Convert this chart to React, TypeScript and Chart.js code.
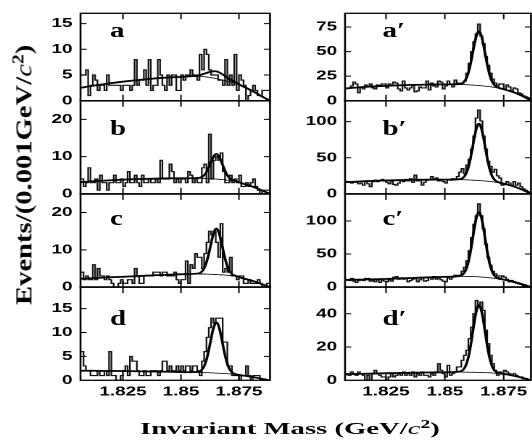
import React, { useEffect, useLayoutEffect, useRef } from 'react';
import { Chart, registerables } from 'chart.js';

Chart.register(...registerables);

// ---------------- data ----------------
const BIN_START = 1.807;
const BIN_WIDTH = 0.001;
const X_TICKS = [1.825, 1.85, 1.875];
const X_TICK_LABELS = ['1.825', '1.85', '1.875'];
const X_RANGE_LEFT = [1.8067, 1.8884];
const X_RANGE_RIGHT = [1.8076, 1.8866];

const COUNTS_A = [5,5,6,1,3,5,4,2,3,3, 2,5,3,3,3,3,3,2,3,3, 3,2,3,8,3,4,4,6,3,8, 2,3,3,8,5,3,2,5,3,5, 5,2,2,5,4,5,5,6,5,5, 4,9,6,10,9,6,5,5,5,4, 4,3,8,3,5,3,9,2,5,4, 3,0,1,2,3,2,1,1,2,2, 2];
const COUNTS_B = [4,2,3,7,3,3,4,1,5,3, 3,1,3,3,5,3,3,4,2,3, 6,3,3,5,3,2,5,3,3,4, 3,3,4,3,9,4,4,4,8,6, 3,4,3,4,4,3,6,5,3,4, 3,3,7,8,3,16,4,9,10,9, 11,6,3,3,5,3,4,3,5,2, 2,3,2,3,4,2,1,0,1,1, 1];
const COUNTS_C = [4,2,3,2,2,6,2,5,3,3, 2,3,2,1,0,0,1,2,1,1, 2,2,1,5,3,1,1,3,3,3, 3,4,4,4,3,4,4,3,3,3, 4,2,1,2,2,7,1,6,5,9, 8,8,5,9,12,15,14,15,12,8, 17,4,5,4,8,3,3,2,3,3, 1,1,2,1,1,1,2,1,0,0, 1];
const COUNTS_D = [6,3,2,2,1,1,1,2,1,1, 2,1,6,1,1,0,0,1,2,3, 1,5,4,4,2,1,1,2,1,1, 2,2,2,1,2,4,4,2,3,2, 2,3,2,3,2,3,3,2,3,3, 2,1,4,6,9,11,13,12,13,13, 13,8,8,3,3,1,1,1,0,1, 1,3,1,0,1,1,1,0,0,0, 0];

const COUNTS_A2 = [13,13,13,15,19,17,8,14,12,16, 14,17,13,12,16,15,17,17,13,17, 15,19,18,12,10,20,13,11,13,16, 9,10,14,13,13,20,11,18,15,14, 20,19,12,15,20,17,14,21,18,17, 18,20,28,38,50,60,68,78,66,58, 45,36,28,22,18,15,17,17,12,16, 14,10,13,12,8,7,5,4,3,2];
const COUNTS_B2 = [18,17,17,15,17,16,14,15,12,18, 14,10,17,19,17,18,20,18,16,14, 18,13,12,15,19,17,20,18,21,16, 26,18,20,12,16,19,20,24,20,22, 18,20,17,15,20,19,21,20,24,30, 35,28,40,48,62,80,105,116,101,80, 62,45,38,30,34,25,22,12,13,17, 15,12,17,12,15,10,7,5,3,2];
const COUNTS_C2 = [12,11,10,13,9,7,10,11,10,13, 13,9,10,8,11,7,10,9,8,11, 9,15,16,12,14,12,13,8,10,12, 14,8,11,14,9,10,15,12,16,12, 14,11,9,8,14,12,15,18,16,18, 24,30,40,55,75,95,108,126,108,88, 65,45,33,24,20,17,12,17,15,12, 8,10,7,6,5,4,2,1,1,1];
const COUNTS_D2 = [4,4,3,5,4,3,5,4,3,0, 3,0,4,6,4,3,2,2,0,2, 4,2,3,4,3,5,3,4,3,5, 2,4,3,5,3,3,2,4,3,5, 10,6,4,2,9,3,4,5,8,8, 12,15,18,25,32,40,48,45,47,42, 30,22,15,10,6,3,5,4,6,5, 4,3,4,3,2,2,1,1,0,0];

// fit curves (background = thin, total = thick), sampled along x
const FIT_X_LEFT = [1.806, 1.812, 1.818, 1.824, 1.830, 1.836, 1.842, 1.848, 1.853, 1.8578, 1.8588, 1.8598, 1.8608, 1.8618, 1.8628, 1.8638, 1.8648, 1.8653, 1.8658, 1.8668, 1.8678, 1.8688, 1.8698, 1.8708, 1.8718, 1.8728, 1.8738, 1.876, 1.879, 1.882, 1.885, 1.8884];
const FIT_X_RIGHT = [1.807, 1.812, 1.818, 1.824, 1.830, 1.836, 1.842, 1.848, 1.853, 1.857, 1.858, 1.859, 1.860, 1.861, 1.862, 1.863, 1.864, 1.8645, 1.865, 1.866, 1.867, 1.868, 1.869, 1.870, 1.871, 1.872, 1.873, 1.876, 1.879, 1.882, 1.884, 1.8866];

const BG_A = [2.45, 2.9, 3.3, 3.65, 3.95, 4.2, 4.45, 4.6, 4.7, 4.7, 4.7, 4.68, 4.62, 4.56, 4.5, 4.42, 4.34, 4.3, 4.24, 4.12, 4.02, 3.92, 3.82, 3.72, 3.62, 3.5, 3.35, 2.9, 2.3, 1.6, 0.8, 0];
const FIT_A = [2.45, 2.9, 3.3, 3.65, 3.95, 4.2, 4.45, 4.6, 4.71, 4.94, 5.07, 5.22, 5.36, 5.51, 5.65, 5.72, 5.73, 5.7, 5.63, 5.42, 5.17, 4.87, 4.56, 4.24, 3.99, 3.74, 3.5, 2.94, 2.3, 1.6, 0.8, 0];
const BG_B = [3.1, 3.4, 3.6, 3.8, 3.95, 4.05, 4.15, 4.2, 4.2, 4.2, 4.2, 4.15, 4.15, 4.1, 4.1, 4.05, 4.0, 4.0, 3.95, 3.9, 3.85, 3.8, 3.7, 3.65, 3.55, 3.45, 3.35, 2.9, 2.35, 1.7, 0.9, 0];
const FIT_B = [3.1, 3.4, 3.6, 3.8, 3.95, 4.05, 4.15, 4.2, 4.2, 4.31, 4.49, 4.87, 5.65, 6.81, 8.32, 9.72, 10.58, 10.7, 10.53, 9.57, 8.07, 6.51, 5.2, 4.37, 3.84, 3.56, 3.38, 2.9, 2.35, 1.7, 0.9, 0];
const BG_C = [2.2, 2.4, 2.6, 2.75, 2.9, 3.1, 3.25, 3.4, 3.5, 3.5, 3.5, 3.5, 3.5, 3.45, 3.45, 3.4, 3.4, 3.4, 3.35, 3.3, 3.3, 3.25, 3.2, 3.1, 3.05, 3.0, 2.9, 2.5, 2.0, 1.45, 0.75, 0];
const FIT_C = [2.2, 2.4, 2.6, 2.75, 2.9, 3.1, 3.25, 3.4, 3.5, 3.7, 4.04, 4.82, 6.26, 8.42, 11.2, 13.82, 15.48, 15.7, 15.43, 13.72, 11.05, 8.22, 5.96, 4.42, 3.59, 3.2, 2.96, 2.5, 2.0, 1.45, 0.75, 0];
const BG_D = [2.0, 2.0, 1.95, 1.95, 1.9, 1.85, 1.8, 1.75, 1.7, 1.65, 1.65, 1.6, 1.6, 1.6, 1.55, 1.55, 1.5, 1.5, 1.5, 1.45, 1.45, 1.4, 1.4, 1.35, 1.3, 1.25, 1.2, 1.05, 0.85, 0.6, 0.3, 0];
const FIT_D = [2.0, 2.0, 1.95, 1.95, 1.9, 1.85, 1.8, 1.75, 1.7, 1.82, 2.12, 2.73, 3.97, 5.88, 8.23, 10.53, 11.91, 12.1, 11.91, 10.43, 8.13, 5.68, 3.77, 2.48, 1.77, 1.42, 1.25, 1.05, 0.85, 0.6, 0.3, 0];

const BG_A2 = [12.2, 13.3, 14.3, 15.0, 15.6, 16.1, 16.4, 16.6, 16.6, 16.5, 16.4, 16.3, 16.2, 16.0, 15.9, 15.7, 15.5, 15.4, 15.3, 15.1, 14.8, 14.6, 14.3, 14.0, 13.6, 13.2, 12.7, 11.0, 8.8, 5.8, 3.5, 0];
const FIT_A2 = [12.2, 13.3, 14.3, 15.0, 15.6, 16.1, 16.4, 16.6, 16.6, 17.38, 18.82, 22.19, 28.52, 38.22, 50.55, 62.29, 69.51, 70.4, 69.31, 61.69, 49.45, 36.82, 26.62, 19.89, 16.02, 14.08, 12.98, 11.0, 8.8, 5.8, 3.5, 0];
const BG_B2 = [16.0, 17.0, 17.8, 18.5, 19.0, 19.4, 19.7, 19.8, 19.8, 19.7, 19.6, 19.5, 19.4, 19.2, 19.0, 18.8, 18.6, 18.5, 18.4, 18.2, 17.9, 17.6, 17.3, 16.9, 16.5, 16.0, 15.5, 13.4, 10.7, 7.0, 4.2, 0];
const FIT_B2 = [16.0, 17.0, 17.8, 18.5, 19.0, 19.4, 19.7, 19.8, 19.8, 20.96, 23.05, 27.9, 36.98, 50.91, 68.46, 85.29, 95.69, 97.0, 95.49, 84.69, 67.36, 49.31, 34.88, 25.3, 19.95, 17.26, 15.89, 13.4, 10.7, 7.0, 4.2, 0];
const BG_C2 = [10.8, 11.2, 11.7, 12.3, 13.0, 13.8, 14.6, 15.3, 15.9, 16.2, 16.2, 16.2, 16.2, 16.1, 16.0, 15.8, 15.6, 15.5, 15.4, 15.1, 14.8, 14.5, 14.1, 13.7, 13.3, 12.8, 12.3, 10.6, 8.3, 5.4, 3.2, 0];
const FIT_C2 = [10.8, 11.2, 11.7, 12.3, 13.0, 13.8, 14.6, 15.3, 15.9, 17.76, 20.49, 26.63, 38.04, 55.49, 77.43, 98.38, 111.35, 113.0, 111.15, 97.68, 76.23, 53.89, 35.94, 24.13, 17.59, 14.36, 12.79, 10.6, 8.3, 5.4, 3.2, 0];
const BG_D2 = [3.5, 3.8, 4.0, 4.2, 4.4, 4.55, 4.7, 4.8, 4.9, 4.9, 4.9, 4.9, 4.85, 4.85, 4.8, 4.8, 4.75, 4.75, 4.7, 4.65, 4.6, 4.55, 4.5, 4.4, 4.3, 4.2, 4.1, 3.6, 2.8, 1.8, 1.1, 0];
const FIT_D2 = [3.5, 3.8, 4.0, 4.2, 4.4, 4.55, 4.7, 4.8, 4.9, 5.54, 6.67, 9.21, 13.88, 21.13, 30.19, 38.93, 44.32, 45.05, 44.27, 38.78, 29.99, 20.83, 13.53, 8.71, 6.07, 4.84, 4.3, 3.6, 2.8, 1.8, 1.1, 0];

const Y_TICKS_A = [0, 5, 10, 15];
const Y_TICKS_B = [0, 10, 20];
const Y_TICKS_C = [0, 10, 20];
const Y_TICKS_D = [0, 5, 10, 15];
const Y_TICKS_A2 = [0, 25, 50, 75];
const Y_TICKS_B2 = [0, 50, 100];
const Y_TICKS_C2 = [0, 50, 100];
const Y_TICKS_D2 = [0, 20, 40];
const Y_MAX = [17, 25, 25, 19.5, 89, 129, 141, 56];
const PANEL_LABELS = ['a', 'b', 'c', 'd', 'a\u2032', 'b\u2032', 'c\u2032', 'd\u2032'];

// ---------------- layout ----------------
const SX = 1.45; // horizontal stretch of the plot area
const CANVAS_W = 380;
const CANVAS_H = 443;
const Y_AXIS_W = 40;
const X_AXIS_H = 22;
const COL_BOX = [
  { L: 80.5 / SX, R: 270 / SX },
  { L: 345 / SX, R: 531 / SX },
];
const ROW_TOP = [7.5, 100.7, 193.9, 287.1];
const ROW_H = 93.2;
const LABEL_X = [110 / SX, 382.5 / SX];
const LABEL_BASE = [29.2, 34.3, 31.2, 38];
const TICK_FONT = { family: '"Liberation Sans", Arial, Helvetica, sans-serif', size: 13, weight: 'bold' as const };
const SERIF = '"Liberation Serif", "Times New Roman", "DejaVu Serif", serif';

type PanelDef = {
  label: string; col: number; row: number; counts: number[]; fitX: number[];
  bg: number[]; fit: number[]; yMax: number; yTicks: number[]; range: number[];
};

const COUNTS = [COUNTS_A, COUNTS_B, COUNTS_C, COUNTS_D, COUNTS_A2, COUNTS_B2, COUNTS_C2, COUNTS_D2];
const BGS = [BG_A, BG_B, BG_C, BG_D, BG_A2, BG_B2, BG_C2, BG_D2];
const FITS = [FIT_A, FIT_B, FIT_C, FIT_D, FIT_A2, FIT_B2, FIT_C2, FIT_D2];
const YTICKS = [Y_TICKS_A, Y_TICKS_B, Y_TICKS_C, Y_TICKS_D, Y_TICKS_A2, Y_TICKS_B2, Y_TICKS_C2, Y_TICKS_D2];

const PANELS: PanelDef[] = PANEL_LABELS.map((label, k) => ({
  label,
  col: k < 4 ? 0 : 1,
  row: k % 4,
  counts: COUNTS[k],
  fitX: k < 4 ? FIT_X_LEFT : FIT_X_RIGHT,
  bg: BGS[k],
  fit: FITS[k],
  yMax: Y_MAX[k],
  yTicks: YTICKS[k],
  range: k < 4 ? X_RANGE_LEFT : X_RANGE_RIGHT,
}));

function makeConfig(p: PanelDef): any {
  const { L, R } = COL_BOX[p.col];
  const T = ROW_TOP[p.row];
  const B = T + ROW_H;
  const showX = p.row === 3;
  const hist = p.counts.map((c, i) => ({ x: BIN_START + i * BIN_WIDTH, y: c }));
  hist.push({ x: BIN_START + p.counts.length * BIN_WIDTH, y: p.counts[p.counts.length - 1] });

  const framePlugin = {
    id: 'frame' + p.label,
    afterDatasetsDraw(chart: any) {
      const { ctx, chartArea: a, scales } = chart;
      ctx.save();
      ctx.strokeStyle = '#000';
      ctx.lineWidth = 1.3;
      ctx.strokeRect(a.left, a.top, a.right - a.left, a.bottom - a.top);
      ctx.lineWidth = 1;
      ctx.beginPath();
      for (const v of X_TICKS) {
        const px = scales.x.getPixelForValue(v);
        ctx.moveTo(px, a.top); ctx.lineTo(px, a.top + 6);
        ctx.moveTo(px, a.bottom); ctx.lineTo(px, a.bottom - 6);
      }
      for (const v of p.yTicks) {
        if (v <= 0) continue;
        const py = scales.y.getPixelForValue(v);
        ctx.moveTo(a.left, py); ctx.lineTo(a.left + 4.2, py);
        ctx.moveTo(a.right, py); ctx.lineTo(a.right - 4.2, py);
      }
      ctx.stroke();
      ctx.restore();
    },
  };

  return {
    type: 'line',
    data: {
      datasets: [
        {
          data: p.fitX.map((x, i) => ({ x, y: p.fit[i] })),
          borderColor: '#000', borderWidth: 1.8, pointRadius: 0,
          cubicInterpolationMode: 'monotone', fill: false, order: 0,
        },
        {
          data: p.fitX.map((x, i) => ({ x, y: p.bg[i] })),
          borderColor: '#000', borderWidth: 0.8, pointRadius: 0,
          cubicInterpolationMode: 'monotone', fill: false, order: 1,
        },
        {
          data: hist, stepped: true, borderColor: '#111', borderWidth: 1.15,
          pointRadius: 0, fill: false, order: 2,
        },
      ],
    },
    options: {
      responsive: false,
      animation: false,
      devicePixelRatio: 2,
      events: [],
      layout: {
        padding: { left: L - Y_AXIS_W, top: T, right: CANVAS_W - R, bottom: CANVAS_H - B - X_AXIS_H },
      },
      plugins: { legend: { display: false }, tooltip: { enabled: false } },
      scales: {
        x: {
          type: 'linear', min: p.range[0], max: p.range[1],
          grid: { display: false, drawTicks: false }, border: { display: false },
          afterBuildTicks: (s: any) => { s.ticks = X_TICKS.map((v) => ({ value: v })); },
          afterFit: (s: any) => { s.height = X_AXIS_H; },
          ticks: {
            display: showX, autoSkip: false, maxRotation: 0, minRotation: 0, padding: 4,
            color: '#000', font: TICK_FONT,
            callback: (_v: any, i: number) => X_TICK_LABELS[i],
          },
        },
        y: {
          type: 'linear', min: 0, max: p.yMax,
          grid: { display: false, drawTicks: false }, border: { display: false },
          afterBuildTicks: (s: any) => { s.ticks = p.yTicks.map((v) => ({ value: v })); },
          afterFit: (s: any) => { s.width = Y_AXIS_W; },
          ticks: {
            padding: 5.5, color: '#000', font: TICK_FONT,
            callback: (v: any) => String(v),
          },
        },
      },
    },
    plugins: [framePlugin],
  };
}

function Panel({ p }: { p: PanelDef }) {
  const ref = useRef<HTMLCanvasElement>(null);
  useEffect(() => {
    const chart = new Chart(ref.current as HTMLCanvasElement, makeConfig(p));
    return () => chart.destroy();
  }, [p]);
  return (
    <canvas ref={ref} width={CANVAS_W} height={CANVAS_H}
      style={{ position: 'absolute', left: 0, top: 0 }} />
  );
}

const supStyle: React.CSSProperties = {
  fontSize: '0.68em', verticalAlign: 'baseline', position: 'relative', top: '-0.5em', lineHeight: 0,
};

function XTitle() {
  const ref = useRef<HTMLDivElement>(null);
  useLayoutEffect(() => {
    const el = ref.current;
    if (!el) return;
    const w = el.offsetWidth || 1;
    el.style.transform = `translate(140px, ${435 - 14.66}px) scaleX(${300 / w})`;
  }, []);
  return (
    <div ref={ref} style={{
      position: 'absolute', left: 0, top: 0, transformOrigin: '0 0', whiteSpace: 'nowrap',
      fontFamily: SERIF, fontWeight: 'bold', fontSize: '17.5px', lineHeight: '17.5px', color: '#000',
    }}>
      Invariant Mass (GeV/<i style={{ fontWeight: 'normal' }}>c</i><sup style={supStyle}>2</sup>)
    </div>
  );
}

function YTitle() {
  const ref = useRef<HTMLDivElement>(null);
  useLayoutEffect(() => {
    const el = ref.current;
    if (!el) return;
    const w = el.offsetWidth || 1;
    el.style.transform = `translate(${31.5 - 20.1}px, 305px) rotate(-90deg) scaleX(${260 / w})`;
  }, []);
  return (
    <div ref={ref} style={{
      position: 'absolute', left: 0, top: 0, transformOrigin: '0 0', whiteSpace: 'nowrap',
      fontFamily: SERIF, fontWeight: 'bold', fontSize: '24px', lineHeight: '24px', color: '#000',
    }}>
      Events/(0.001GeV/<i style={{ fontWeight: 'normal' }}>c</i><sup style={supStyle}>2</sup>)
    </div>
  );
}

export default function App() {
  return (
    <div style={{ position: 'absolute', left: 0, top: 0, width: 532, height: 443, overflow: 'hidden', background: '#fff' }}>
      <div style={{
        position: 'absolute', left: 0, top: 0, width: 532 / SX, height: 443, overflow: 'hidden',
        transform: `scaleX(${SX})`, transformOrigin: '0 0',
      }}>
        {PANELS.map((p) => <Panel key={p.label} p={p} />)}
        {PANELS.map((p) => (
          <span key={'l' + p.label} style={{
            position: 'absolute', left: LABEL_X[p.col], top: ROW_TOP[p.row] + LABEL_BASE[p.row] - 16.75,
            fontFamily: SERIF, fontWeight: 'bold', fontSize: '20px', lineHeight: '20px',
            whiteSpace: 'nowrap', color: '#000',
          }}>{p.label}</span>
        ))}
      </div>
      <YTitle />
      <XTitle />
    </div>
  );
}
